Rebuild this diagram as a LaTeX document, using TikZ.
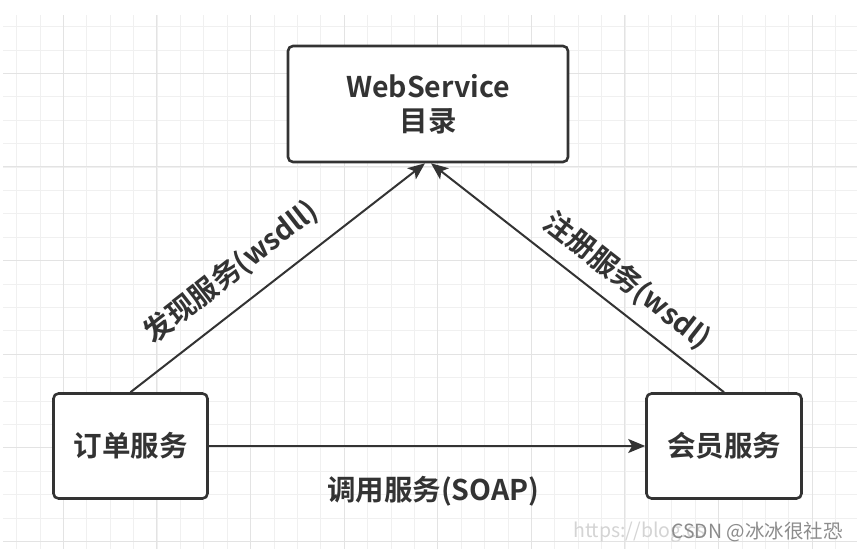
\documentclass[tikz,border=0pt]{standalone}
\usepackage{fontspec}
\setmainfont{Noto Sans CJK SC}[BoldFont={Noto Sans CJK SC Bold}]
\usetikzlibrary{arrows.meta}
\definecolor{ink}{HTML}{333333}
\definecolor{gridminor}{HTML}{F0F0F0}
\definecolor{gridmajor}{HTML}{E3E3E3}
\definecolor{wmark}{HTML}{8C8C8C}
\definecolor{wurl}{HTML}{D4D4D4}
\tikzset{
  box/.style={draw=ink, line width=2.6pt, rounded corners=5pt, fill=white,
    inner sep=0pt, align=center, text=ink,
    font=\bfseries\fontsize{28.5}{34}\selectfont},
  lbl/.style={text=ink, inner sep=2pt, font=\bfseries\fontsize{28.5}{32}\selectfont},
  arr/.style={draw=ink, line width=2pt,
    -{Stealth[length=17pt,width=14pt,inset=4pt]}},
  wm/.style={inner sep=0pt, anchor=west, font=\fontsize{19.5}{21}\selectfont}
}
\begin{document}
\begin{tikzpicture}[x=1pt,y=-1pt]
\useasboundingbox (0,0) rectangle (857,549);
\fill[white] (0,0) rectangle (857,549);
% grid
\foreach \i in {0,...,36} \draw[gridminor, line width=1pt] ({16.7+23.4*\i},15) -- ({16.7+23.4*\i},549);
\foreach \j in {0,...,22} \draw[gridminor, line width=1pt] (3,{26.7+23.4*\j}) -- (857,{26.7+23.4*\j});
\foreach \i in {0,...,8} \draw[gridmajor, line width=1pt] ({63.3+93.6*\i},15) -- ({63.3+93.6*\i},549);
\foreach \j in {0,...,5} \draw[gridmajor, line width=1pt] (3,{73.3+93.6*\j}) -- (857,{73.3+93.6*\j});
% boxes
\node[box, minimum width=280pt, minimum height=116pt] (dir) at (428,104) {WebService\\目录};
\node[box, minimum width=154pt, minimum height=105pt] (order) at (130.5,446) {订单服务};
\node[box, minimum width=155pt, minimum height=105pt] (member) at (724,446) {会员服务};
% connectors
\draw[arr] (order.north) -- node[lbl, sloped, above=15pt, pos=0.41] {发现服务(wsdll)} ([xshift=-3pt]dir.south);
\draw[arr] (member.north) -- node[lbl, sloped, above=10pt, pos=0.39] {注册服务(wsdl)} ([xshift=3pt]dir.south);
\draw[arr] (order.east) -- node[lbl, below=27pt, pos=0.514] {调用服务(SOAP)} (member.west);
% watermark
\node[wm, text=wurl] (url) at (573,532) {https://blog.cs};
\node[wm, text=wmark] (csdn) at (671,532) {CSDN @冰冰很社恐};
\end{tikzpicture}
\end{document}
